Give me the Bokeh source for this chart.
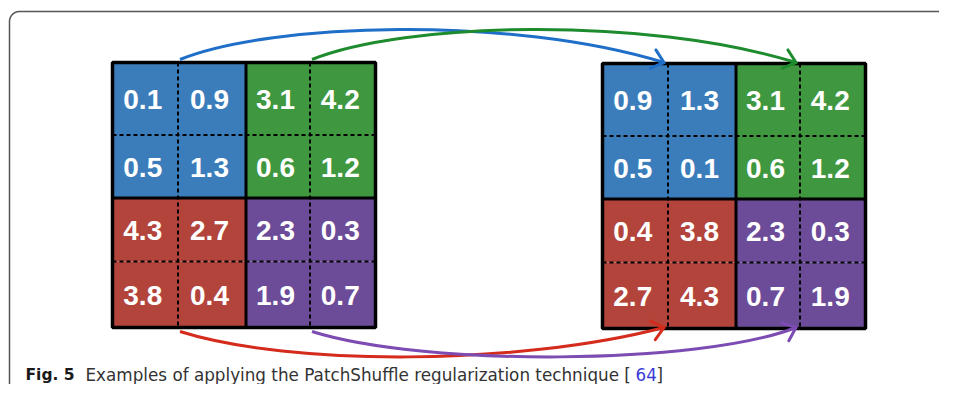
import numpy as np
from bokeh.plotting import figure
from bokeh.models import Range1d
from bokeh.embed import file_html
from bokeh.resources import INLINE
from bokeh.core.properties import value

# ---------------- data ----------------
left_values = [["0.1", "0.9", "3.1", "4.2"],
               ["0.5", "1.3", "0.6", "1.2"],
               ["4.3", "2.7", "2.3", "0.3"],
               ["3.8", "0.4", "1.9", "0.7"]]
right_values = [["0.9", "1.3", "3.1", "4.2"],
                ["0.5", "0.1", "0.6", "1.2"],
                ["0.4", "3.8", "2.3", "0.3"],
                ["2.7", "4.3", "0.7", "1.9"]]
patch_colors = [["#3b7dbb", "#3f973f"],
                ["#b3443c", "#6c4c99"]]
arrow_names = ["blue", "green", "red", "purple"]
arrow_colors = ["#1f6fc9", "#1e8c2e", "#d42b1c", "#7d4cb3"]
arrow_side = ["top", "top", "bottom", "bottom"]
arrow_col = [1, 3, 1, 3]          # column boundary the arrow starts / ends at
caption_bold = "Fig. 5"
caption_text = "Examples of applying the PatchShuffle regularization technique ["
caption_ref = "64"
caption_end = "]"

# ---------------- layout ----------------
W, H = 939, 384
p = figure(width=W, height=H, x_range=Range1d(0, W), y_range=Range1d(H, 0),
           output_backend="svg", toolbar_location=None, x_axis_type=None, y_axis_type=None,
           min_border=0, outline_line_color=None, background_fill_color="white")
p.xgrid.grid_line_color = None
p.ygrid.grid_line_color = None

col_w = [65.5, 68.0, 64.0, 65.5]
row_h = [72.5, 63.0, 63.5, 66.0]
grids = [dict(x0=112, y0=62, vals=left_values),
         dict(x0=602, y0=63, vals=right_values)]
for g in grids:
    g["xe"] = g["x0"] + np.concatenate([[0], np.cumsum(col_w)])
    g["ye"] = g["y0"] + np.concatenate([[0], np.cumsum(row_h)])

# rounded frame
r = 10
th = np.linspace(np.pi, 1.5 * np.pi, 20)
fx = np.concatenate([[9, 9], 9 + r + r * np.cos(th), [960]])
fy = np.concatenate([[400, 11 + r], 11 + r + r * np.sin(th), [11]])
p.line(fx, fy, line_color="#555555", line_width=1.5)

for g in grids:
    xe, ye = g["xe"], g["ye"]
    L, R, T, B, C, TX, TY, TT = [], [], [], [], [], [], [], []
    for i in range(4):
        for j in range(4):
            L.append(xe[j]); R.append(xe[j + 1])
            T.append(ye[i]); B.append(ye[i + 1])
            C.append(patch_colors[i // 2][j // 2])
            TX.append((xe[j] + xe[j + 1]) / 2 - 2.5)
            TY.append((ye[i] + ye[i + 1]) / 2 + 1)
            TT.append(g["vals"][i][j])
    p.quad(left=L, right=R, top=T, bottom=B, fill_color=C, line_color=None)
    for k in (1, 3):
        p.line([xe[k], xe[k]], [ye[0], ye[4]], line_color="black", line_width=2, line_dash="4 3")
        p.line([xe[0], xe[4]], [ye[k], ye[k]], line_color="black", line_width=2, line_dash="4 3")
    p.line([xe[2], xe[2]], [ye[0], ye[4]], line_color="black", line_width=3)
    p.line([xe[0], xe[4]], [ye[2], ye[2]], line_color="black", line_width=3)
    p.quad(left=[xe[0]], right=[xe[4]], top=[ye[0]], bottom=[ye[4]],
           fill_color=None, line_color="black", line_width=3.5)
    p.text(x=TX, y=TY, text=TT, text_align="center", text_baseline="middle",
           text_font=value("Liberation Sans"), text_font_style="bold",
           text_font_size="28px", text_color="white")

# arrows (cubic curves from the left grid to the right grid)
gl, gr = grids
for name, col, side, k in zip(arrow_names, arrow_colors, arrow_side, arrow_col):
    xs = gl["xe"][k] + 2
    xe_ = gr["xe"][k] - 4
    if side == "top":
        ys, ye_ = gl["ye"][0] - 3, gr["ye"][0] - 1
        f1, f2 = 0.19, 0.685
        c1y, c2y = gl["ye"][0] - 40, gl["ye"][0] - 47
    else:
        ys, ye_ = gl["ye"][4] + 4, gr["ye"][4] - 1
        f1, f2 = (0.23, 0.70) if name == "red" else (0.23, 0.80)
        c1y, c2y = gl["ye"][4] + 39, gl["ye"][4] + 38
    span = xe_ - xs
    c1x, c2x = xs + f1 * span, xs + f2 * span
    p.bezier(x0=[xs], y0=[ys], x1=[xe_], y1=[ye_], cx0=[c1x], cy0=[c1y], cx1=[c2x], cy1=[c2y],
             line_color=col, line_width=3)
    d = np.array([xe_ - c2x, ye_ - c2y]); d = d / np.hypot(*d)
    ang = np.arctan2(-d[1], -d[0])
    for s in (1, -1):
        a = ang + s * np.radians(40)
        p.line([xe_, xe_ + 15 * np.cos(a)], [ye_, ye_ + 15 * np.sin(a)], line_color=col,
               line_width=3, line_cap="round")

# caption
cy = 374
p.text(x=[25], y=[cy], text=[caption_bold], text_font=value("DejaVu Sans"), text_font_style="bold",
       text_font_size="15.5px", text_color="#1a1a1a", text_baseline="alphabetic")
p.text(x=[85], y=[cy], text=[caption_text], text_font=value("DejaVu Sans"),
       text_font_size="16.8px", text_color="#333333", text_baseline="alphabetic")
p.text(x=[635], y=[cy], text=[caption_ref], text_font=value("DejaVu Sans"),
       text_font_size="16.8px", text_color="#3a3ad8", text_baseline="alphabetic")
p.text(x=[656], y=[cy], text=[caption_end], text_font=value("DejaVu Sans"),
       text_font_size="16.8px", text_color="#333333", text_baseline="alphabetic")

open("out.html", "w").write(file_html(p, INLINE))
